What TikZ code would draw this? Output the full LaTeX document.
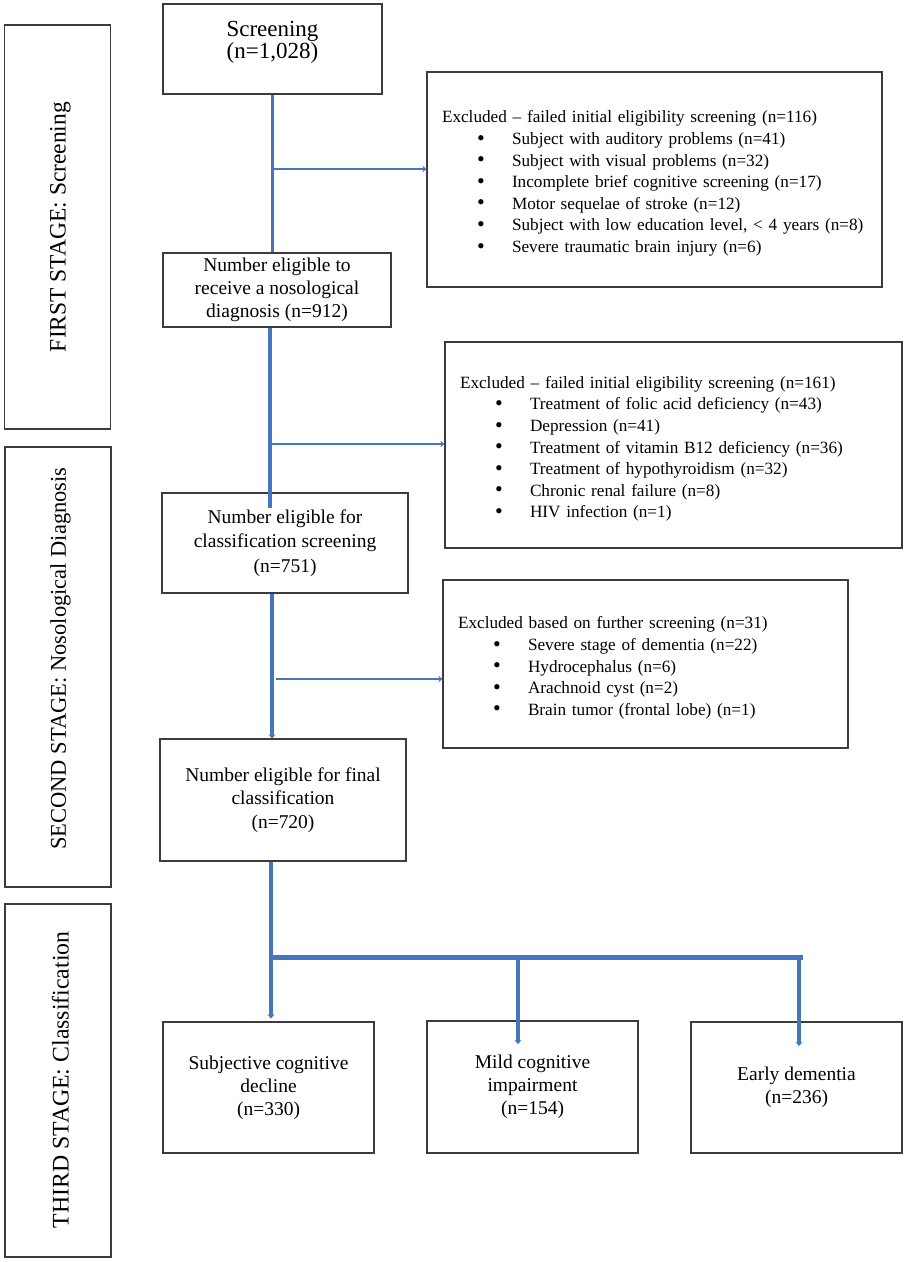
\documentclass[tikz,border=0pt]{standalone}
\usepackage{fontspec}
\setmainfont{Liberation Serif}
\usetikzlibrary{arrows.meta}
\definecolor{flowblue}{RGB}{70,118,190}
\definecolor{boxgray}{RGB}{60,60,60}
\newcommand\bitem[1]{\hspace*{35pt}\makebox[35pt][l]{\raisebox{-0.6pt}{\fontsize{22}{22}\selectfont\textbullet}}\mbox{#1}}
\newcommand\extitle[1]{\rule{0pt}{20pt}\mbox{#1}}
\begin{document}
\begin{tikzpicture}[x=1pt,y=-1pt,
  box/.style={draw=boxgray, line width=1.2pt, inner sep=0pt, align=center,
    font=\fontsize{19.5}{23.2}\selectfont},
  exbox/.style={draw=boxgray, line width=1.2pt, inner xsep=15pt, inner ysep=0pt, align=left,
    font=\fontsize{17.2}{21.6}\selectfont},
  stagebox/.style={draw=boxgray, line width=1.2pt, inner sep=0pt, minimum width=106pt},
  stagetext/.style={rotate=90, inner sep=0pt, font=\fontsize{23}{26}\selectfont},
  vline/.style={draw=flowblue, line width=3.3pt},
  hline/.style={draw=flowblue, line width=2.4pt, -{Stealth[length=4pt,width=6.5pt]}},
  barline/.style={draw=flowblue, line width=5pt},
  tipv/.style={-{Stealth[length=4pt,width=7pt]}}
]
\useasboundingbox (0,0) rectangle (918,1262);

% stage boxes
\node[stagebox, minimum height=404pt] (st1) at (57.5,227) {};
\node[stagebox, minimum height=440pt] (st2) at (58,667) {};
\node[stagebox, minimum height=353pt] (st3) at (58,1080.5) {};
\node[stagetext, font=\fontsize{23.5}{26}\selectfont] (st1t) at (60.5,227) {FIRST STAGE: Screening};
\node[stagetext, font=\fontsize{22.5}{26}\selectfont] (st2t) at (60.5,658.5) {SECOND STAGE: Nosological Diagnosis};
\node[stagetext, font=\fontsize{23.8}{26}\selectfont] (st3t) at (60.5,1080) {THIRD STAGE: Classification};

% main boxes
\node[box, minimum width=219pt, minimum height=90pt, font=\fontsize{23}{22}\selectfont] (scr) at (272.5,49)
  {Screening\\(n=1,028)\rule[-19pt]{0pt}{19pt}};
\node[box, minimum width=228pt, minimum height=74pt] (elig1) at (277,290)
  {Number eligible to\\receive a nosological\\diagnosis (n=912)};
\node[box, minimum width=246pt, minimum height=100pt, font=\fontsize{19.5}{24.5}\selectfont] (elig2) at (285,543)
  {Number eligible for\\classification screening\\(n=751)};
\node[box, minimum width=246pt, minimum height=122pt] (elig3) at (283,800)
  {Number eligible for final\\classification\\(n=720)};
\node[box, minimum width=211pt, minimum height=131pt] (scd) at (268.5,1087.5)
  {Subjective cognitive\\decline\\(n=330)};
\node[box, minimum width=211pt, minimum height=132pt] (mci) at (532.5,1087)
  {Mild cognitive\\impairment\\(n=154)};
\node[box, minimum width=211pt, minimum height=131pt] (ed) at (796.5,1087.5)
  {Early dementia\\(n=236)};

% exclusion boxes
\node[exbox, minimum width=455pt, minimum height=215pt, text width=425pt] (ex1) at (654.5,179.5)
  {\extitle{Excluded – failed initial eligibility screening (n=116)}\\
   \bitem{Subject with auditory problems (n=41)}\\
   \bitem{Subject with visual problems (n=32)}\\
   \bitem{Incomplete brief cognitive screening (n=17)}\\
   \bitem{Motor sequelae of stroke (n=12)}\\
   \bitem{Subject with low education level, < 4 years (n=8)}\\
   \bitem{Severe traumatic brain injury (n=6)}};
\node[exbox, minimum width=457pt, minimum height=206pt, text width=427pt] (ex2) at (673.5,445)
  {\extitle{Excluded – failed initial eligibility screening (n=161)}\\
   \bitem{Treatment of folic acid deficiency (n=43)}\\
   \bitem{Depression (n=41)}\\
   \bitem{Treatment of vitamin B12 deficiency (n=36)}\\
   \bitem{Treatment of hypothyroidism (n=32)}\\
   \bitem{Chronic renal failure (n=8)}\\
   \bitem{HIV infection (n=1)}};
\node[exbox, minimum width=405pt, minimum height=168pt, text width=375pt] (ex3) at (645.5,664)
  {\extitle{Excluded based on further screening (n=31)}\\
   \bitem{Severe stage of dementia (n=22)}\\
   \bitem{Hydrocephalus (n=6)}\\
   \bitem{Arachnoid cyst (n=2)}\\
   \bitem{Brain tumor (frontal lobe) (n=1)}};

% junction coordinates
\coordinate (j1) at (272.5,169);
\coordinate (j2) at (270,444);
\coordinate (j3) at (272,679);
\coordinate (j4) at (271,957);
\coordinate (j5) at (518,957);
\coordinate (j6) at (799,957);
\coordinate (e5) at (518,1044);
\coordinate (e6) at (799,1046);

% connectors
\draw[vline] (scr.south) -- (scr.south |- elig1.north);
\draw[hline] (j1) -- (j1 -| ex1.west);

\draw[vline] (j2 |- elig1.south) -- ([yshift=-16pt]j2 |- elig2.north);
\draw[hline] (j2) -- (j2 -| ex2.west);

\draw[vline, tipv] (j3 |- elig2.south) -- (j3 |- elig3.north);
\draw[hline] ([xshift=4pt]j3) -- (j3 -| ex3.west);

\draw[vline, tipv] (j4 |- elig3.south) -- ([yshift=3pt]j4 |- scd.north);
\draw[barline] ([xshift=-1.6pt]j4) -- ([xshift=4pt]j6);
\draw[vline, tipv] (j5) -- (e5);
\draw[vline, tipv] (j6) -- (e6);
\end{tikzpicture}
\end{document}
